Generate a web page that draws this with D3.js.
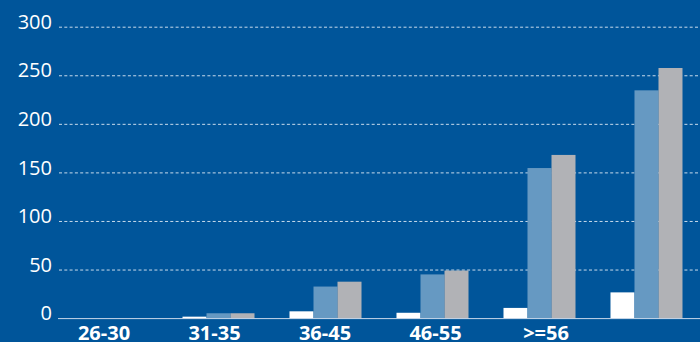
<!DOCTYPE html>
<html>
<head>
<meta charset="utf-8">
<script src="https://cdn.jsdelivr.net/npm/d3@7"></script>
<style>
  html, body { margin: 0; padding: 0; background: #00559A; }
  svg { display: block; }
</style>
</head>
<body>
<svg id="chart" width="700" height="342"></svg>
<script>
// ---- data ----
const categories = ["26-30", "31-35", "36-45", "46-55", ">=56", ""];
const seriesKeys = ["s1", "s2", "s3"];
const s1Values = [0, 2, 7.5, 6, 11, 27];
const s2Values = [0, 5.5, 33, 45.5, 155, 235];
const s3Values = [0, 5.5, 38, 49.5, 168.5, 258];
const yTicks = [0, 50, 100, 150, 200, 250, 300];

const seriesColors = { s1: "#FFFFFF", s2: "#6699C2", s3: "#B1B2B6" };
const valuesByKey = { s1: s1Values, s2: s2Values, s3: s3Values };

const W = 700, H = 342;
const svg = d3.select("#chart");

svg.append("rect").attr("width", W).attr("height", H).attr("fill", "#00559A");

const x = d3.scaleBand()
  .domain(categories)
  .range([58, 700])
  .paddingInner(0.327)
  .paddingOuter(0.1636);

const xs = d3.scaleBand()
  .domain(seriesKeys)
  .range([0, x.bandwidth()]);

const xLabel = d3.scalePoint()
  .domain(categories)
  .range([104, 656.5]);

const y = d3.scaleLinear().domain([0, 300]).range([318.6, 27.2]);

// gridlines
svg.append("g")
  .selectAll("line")
  .data(yTicks.filter(d => d > 0))
  .join("line")
  .attr("x1", 59)
  .attr("x2", W)
  .attr("y1", d => y(d))
  .attr("y2", d => y(d))
  .attr("stroke", "rgba(235,242,250,0.85)")
  .attr("stroke-width", 1)
  .attr("stroke-dasharray", "3,2.3");

// y axis labels
const yAxis = d3.axisLeft(y).tickValues(yTicks).tickSize(0).tickPadding(0);
const gy = svg.append("g").attr("transform", "translate(52,0)").call(yAxis);
gy.select(".domain").remove();
gy.selectAll("text")
  .attr("fill", "#FFFFFF")
  .attr("dy", "0.06em")
  .style("font-family", "'Open Sans', sans-serif")
  .style("font-size", "20px");

// bars
const groups = svg.append("g")
  .selectAll("g")
  .data(categories)
  .join("g")
  .attr("transform", d => `translate(${x(d)},0)`);

groups.selectAll("rect")
  .data((c, i) => seriesKeys.map(k => ({ key: k, value: valuesByKey[k][i] })))
  .join("rect")
  .attr("x", d => xs(d.key))
  .attr("width", xs.bandwidth())
  .attr("y", d => y(d.value))
  .attr("height", d => y(0) - y(d.value))
  .attr("fill", d => seriesColors[d.key]);

// baseline
svg.append("line")
  .attr("x1", 58).attr("x2", W)
  .attr("y1", y(0)).attr("y2", y(0))
  .attr("stroke", "#C8D8EA")
  .attr("stroke-width", 1);

// x labels
svg.append("g")
  .selectAll("text")
  .data(categories)
  .join("text")
  .attr("x", d => xLabel(d))
  .attr("y", 339.8)
  .attr("text-anchor", "middle")
  .attr("fill", "#FFFFFF")
  .style("font-family", "'Open Sans', sans-serif")
  .style("font-weight", "700")
  .style("font-size", "20px")
  .text(d => d);
</script>
</body>
</html>
